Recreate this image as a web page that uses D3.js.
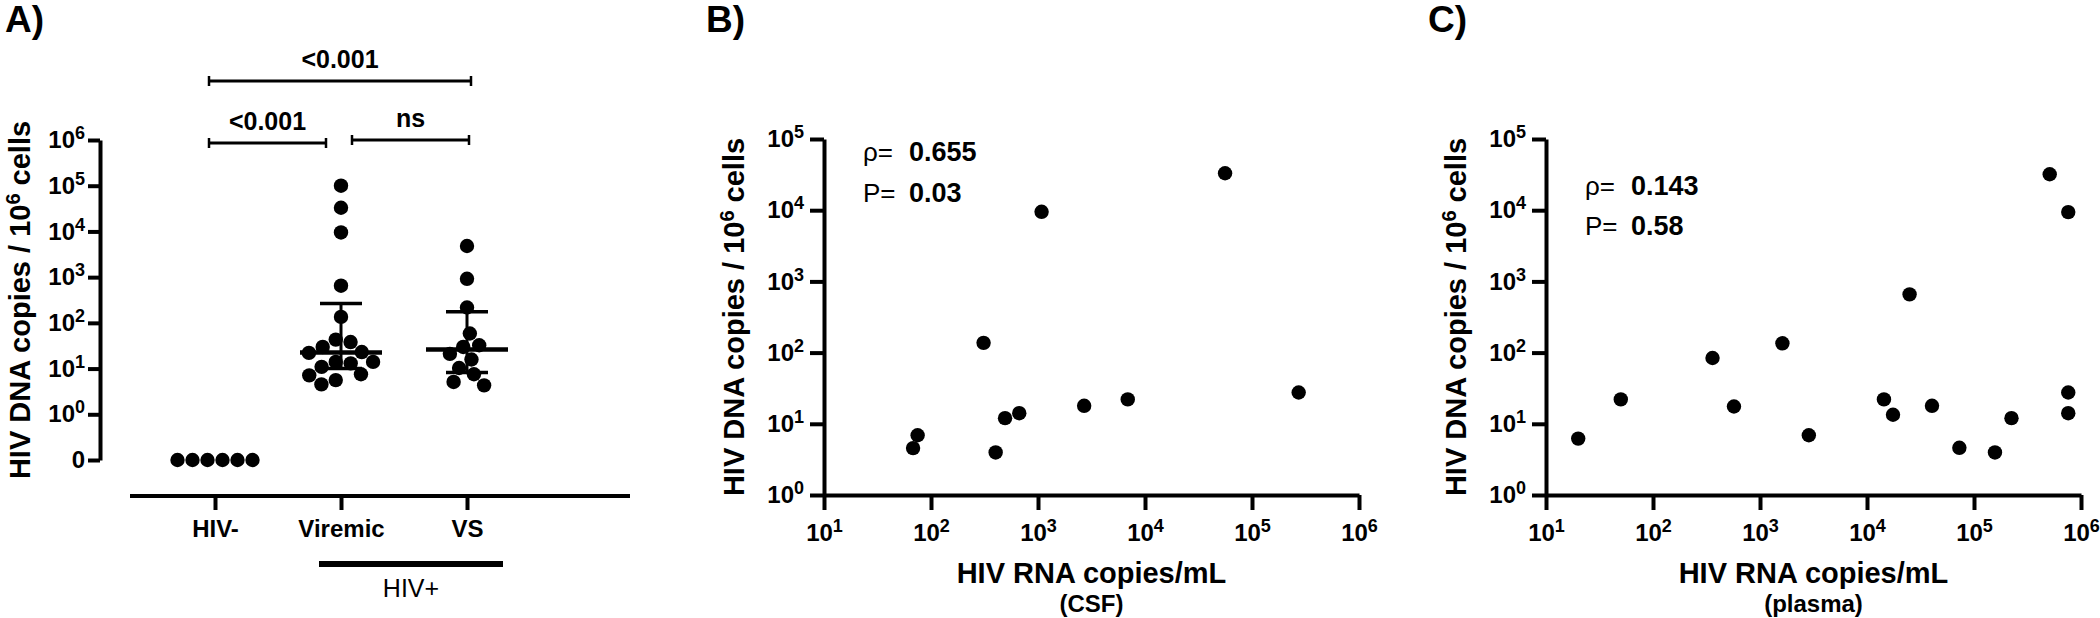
<!DOCTYPE html>
<html>
<head>
<meta charset="utf-8">
<script src="https://cdn.jsdelivr.net/npm/d3@7"></script>
<style>
  body { margin: 0; background: #fff; }
</style>
</head>
<body>
<div id="chart"></div>
<script>
// ---- data ----
var groups = ["HIV-", "Viremic", "VS"];
var hivNeg = [0, 0, 0, 0, 0, 0];
var viremic = [1e5, 3.3e4, 9.5e3, 650, 135, 43, 38, 29.7, 22, 23, 14, 14, 13, 10.9, 7.5, 7.1, 5.6, 4.5];
var vs = [4800, 920, 217, 58.5, 32.4, 29.7, 21, 15.8, 10.3, 7.5, 5.1, 4.3];
var medianVals = [null, 22.4, 26];
var q1Vals = [null, 10, 8.2];
var q3Vals = [null, 265, 174];
var yTicksA = [0, 1, 10, 100, 1e3, 1e4, 1e5, 1e6];
var comparisons = [
  { from: "HIV-", to: "VS", label: "<0.001" },
  { from: "HIV-", to: "Viremic", label: "<0.001" },
  { from: "Viremic", to: "VS", label: "ns" }
];

var csfRna = [5.6e4, 1080, 310, 2.73e5, 6900, 2700, 668, 492, 75, 68, 402];
var csfDna = [3.3e4, 9500, 137, 27.5, 22, 17.9, 14.1, 12, 6.9, 4.56, 3.96];
var plasmaRna = [5.1e5, 7.6e5, 2.5e4, 1620, 360, 50, 571, 1.44e4, 1.75e4, 4.05e4, 7.6e5, 7.6e5, 2.24e5, 20, 2860, 7.3e4, 1.57e5];
var plasmaDna = [3.2e4, 9400, 658, 135, 84, 22, 17.5, 22, 13.4, 17.9, 27.5, 14.1, 12, 6.2, 6.9, 4.6, 3.96];

var xTicksBC = [10, 100, 1e3, 1e4, 1e5, 1e6];
var yTicksBC = [1, 10, 100, 1e3, 1e4, 1e5];
var statNames = ["\u03c1=", "P="];
var csfStats = ["0.655", "0.03"];
var plasmaStats = ["0.143", "0.58"];

var FONT = "'Liberation Sans', Arial, Helvetica, sans-serif";
var R = 7.2;

var svg = d3.select("#chart")
  .append("svg")
  .attr("width", 2100)
  .attr("height", 618)
  .style("font-family", FONT);

function styleAxis(g) {
  g.attr("font-family", FONT).attr("font-size", 24).attr("font-weight", "bold");
  g.select(".domain").attr("stroke", "#000").attr("stroke-width", 4);
  g.selectAll(".tick line").attr("stroke", "#000").attr("stroke-width", 4);
  g.selectAll(".tick text").attr("fill", "#000");
}

// 10^n labels with a real superscript
function powerLabels(sel) {
  sel.each(function(d) {
    var t = d3.select(this);
    if (d < 1) { t.text("0"); return; }
    var e = Math.round(Math.log10(d));
    t.text(null);
    t.append("tspan").text("10");
    t.append("tspan").attr("font-size", 18).attr("dy", -9).text(e);
  });
}

function yTitle(x, y) {
  var t = svg.append("text")
    .attr("transform", "translate(" + x + "," + y + ") rotate(-90)")
    .attr("text-anchor", "middle")
    .attr("font-size", 29)
    .attr("font-weight", "bold");
  t.append("tspan").text("HIV DNA copies / 10");
  t.append("tspan").attr("font-size", 20).attr("dy", -10).text("6");
  t.append("tspan").attr("dy", 10).text(" cells");
}

function panelLetter(x, s) {
  svg.append("text").attr("x", x).attr("y", 32)
    .attr("font-size", 37).attr("font-weight", "bold").text(s);
}

// ================= Panel A =================
var xA = d3.scalePoint().domain(groups).range([215, 467]);
var yA = d3.scaleLog().domain([0.1, 1e6]).range([460, 140]);
function yPos(v) { return yA(v === 0 ? 0.1 : v); }

// simple beeswarm so dots with close values sit side by side
function swarm(values, r) {
  var d = 2 * r + 0.6;
  var pts = values.map(function(v) { return { v: v, y: yPos(v), dx: 0 }; });
  var order = pts.slice().sort(function(a, b) { return a.y - b.y; });
  var placed = [];
  order.forEach(function(p) {
    var blocks = [];
    placed.forEach(function(q) {
      var dy = Math.abs(q.y - p.y);
      if (dy < d) {
        var w = Math.sqrt(d * d - dy * dy);
        blocks.push([q.dx - w, q.dx + w]);
      }
    });
    var cands = [0];
    blocks.forEach(function(b) { cands.push(b[0], b[1]); });
    cands.sort(function(a, b) { return Math.abs(a) - Math.abs(b) || b - a; });
    p.dx = cands.find(function(c) {
      return blocks.every(function(b) { return c <= b[0] + 1e-6 || c >= b[1] - 1e-6; });
    });
    placed.push(p);
  });
  // recentre every run of touching dots
  var run = [];
  function flush() {
    if (!run.length) return;
    var ext = d3.extent(run, function(p) { return p.dx; });
    var s = (ext[0] + ext[1]) / 2;
    run.forEach(function(p) { p.dx -= s; });
    run = [];
  }
  order.forEach(function(p, i) {
    if (i > 0 && p.y - order[i - 1].y >= d) flush();
    run.push(p);
  });
  flush();
  return pts;
}

var seriesA = [hivNeg, viremic, vs];
seriesA.forEach(function(vals, i) {
  var pts = swarm(vals, R);
  svg.append("g").selectAll("circle")
    .data(pts)
    .enter().append("circle")
    .attr("cx", function(d) { return xA(groups[i]) + d.dx; })
    .attr("cy", function(d) { return d.y; })
    .attr("r", R)
    .attr("fill", "#000");
});

// median + interquartile range
groups.forEach(function(g, i) {
  if (medianVals[i] == null) return;
  var cx = xA(g);
  var sg = svg.append("g").attr("stroke", "#000");
  sg.append("line").attr("x1", cx).attr("x2", cx)
    .attr("y1", yA(q1Vals[i])).attr("y2", yA(q3Vals[i])).attr("stroke-width", 3);
  [q1Vals[i], q3Vals[i]].forEach(function(q) {
    sg.append("line").attr("x1", cx - 21).attr("x2", cx + 21)
      .attr("y1", yA(q)).attr("y2", yA(q)).attr("stroke-width", 3.5);
  });
  sg.append("line").attr("x1", cx - 41).attr("x2", cx + 41)
    .attr("y1", yA(medianVals[i])).attr("y2", yA(medianVals[i])).attr("stroke-width", 4.5);
});

var yAxisA = svg.append("g")
  .attr("transform", "translate(100,0)")
  .call(d3.axisLeft(yA)
    .tickValues(yTicksA.map(function(v) { return v || 0.1; }))
    .tickSize(12).tickPadding(3).tickSizeOuter(0));
styleAxis(yAxisA);
yAxisA.selectAll(".tick text").call(powerLabels);

var xAxisA = svg.append("g")
  .attr("transform", "translate(0,496)")
  .call(d3.axisBottom(xA).tickSize(14).tickPadding(10).tickSizeOuter(0));
styleAxis(xAxisA);
xAxisA.select(".domain").attr("d", "M" + (xA.range()[0] - 85) + ",0H" + (xA.range()[1] + 163));

// HIV+ grouping bar
svg.append("line")
  .attr("x1", xA("Viremic") - 22).attr("x2", xA("VS") + 36)
  .attr("y1", 564).attr("y2", 564)
  .attr("stroke", "#000").attr("stroke-width", 6);
svg.append("text")
  .attr("x", (xA("Viremic") - 22 + xA("VS") + 36) / 2).attr("y", 597)
  .attr("text-anchor", "middle").attr("font-size", 25)
  .text("HIV+");

// significance brackets
var bracketLevels = [81, 143, 140];
var bracketInsets = [[-6, 4], [-6, -15], [11, 2]];
comparisons.forEach(function(c, i) {
  var x1 = xA(c.from) + bracketInsets[i][0];
  var x2 = xA(c.to) + bracketInsets[i][1];
  var by = bracketLevels[i];
  var bg = svg.append("g").attr("stroke", "#000").attr("stroke-width", 3);
  bg.append("line").attr("x1", x1).attr("x2", x2).attr("y1", by).attr("y2", by);
  bg.append("line").attr("x1", x1).attr("x2", x1).attr("y1", by - 5).attr("y2", by + 5).attr("stroke-width", 2.5);
  bg.append("line").attr("x1", x2).attr("x2", x2).attr("y1", by - 5).attr("y2", by + 5).attr("stroke-width", 2.5);
  svg.append("text")
    .attr("x", (x1 + x2) / 2).attr("y", by - 13)
    .attr("text-anchor", "middle").attr("font-size", 25).attr("font-weight", "bold")
    .text(c.label);
});

yTitle(30, 300);
panelLetter(5, "A)");

// ================= Panels B and C =================
function scatterPanel(x0, rna, dna, stats, statsY, sub, letterX, letter) {
  var x = d3.scaleLog().domain([10, 1e6]).range([x0, x0 + 535]);
  var y = d3.scaleLog().domain([1, 1e5]).range([495, 139]);

  var ax = svg.append("g")
    .attr("transform", "translate(0,495)")
    .call(d3.axisBottom(x).tickValues(xTicksBC).tickSize(15).tickPadding(14).tickSizeOuter(0));
  styleAxis(ax);
  ax.selectAll(".tick text").call(powerLabels);

  var ay = svg.append("g")
    .attr("transform", "translate(" + x0 + ",0)")
    .call(d3.axisLeft(y).tickValues(yTicksBC).tickSize(14).tickPadding(6).tickSizeOuter(0));
  styleAxis(ay);
  ay.selectAll(".tick text").call(powerLabels);

  svg.append("g").selectAll("circle")
    .data(rna)
    .enter().append("circle")
    .attr("cx", function(d) { return x(d); })
    .attr("cy", function(d, i) { return y(dna[i]); })
    .attr("r", R)
    .attr("fill", "#000");

  var cx = (x.range()[0] + x.range()[1]) / 2;
  svg.append("text").attr("x", cx).attr("y", 583)
    .attr("text-anchor", "middle").attr("font-size", 29).attr("font-weight", "bold")
    .text("HIV RNA copies/mL");
  svg.append("text").attr("x", cx).attr("y", 612)
    .attr("text-anchor", "middle").attr("font-size", 24).attr("font-weight", "bold")
    .text(sub);

  statNames.forEach(function(name, i) {
    svg.append("text").attr("x", x0 + 39).attr("y", statsY[i])
      .attr("font-size", 26).text(name);
    svg.append("text").attr("x", x0 + 85).attr("y", statsY[i])
      .attr("font-size", 27).attr("font-weight", "bold").text(stats[i]);
  });

  yTitle(x0 - 80, (y.range()[0] + y.range()[1]) / 2);
  panelLetter(letterX, letter);
}

scatterPanel(824, csfRna, csfDna, csfStats, [161, 202], "(CSF)", 706, "B)");
scatterPanel(1546, plasmaRna, plasmaDna, plasmaStats, [195, 235], "(plasma)", 1428, "C)");
</script>
</body>
</html>
